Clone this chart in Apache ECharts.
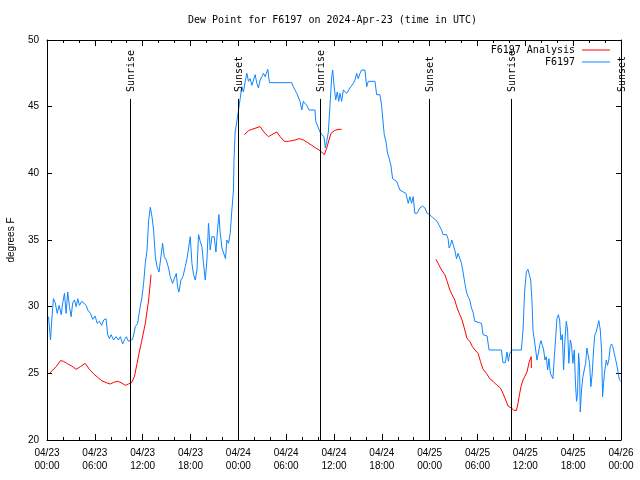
<!DOCTYPE html>
<html><head><meta charset="utf-8">
<script src="https://cdn.jsdelivr.net/npm/echarts@6/dist/echarts.min.js"></script>
<style>html,body{margin:0;padding:0;background:#fff}#c{width:640px;height:480px}</style>
</head><body><div id="c"></div>
<script>
// Hours since 2024-04-23 00:00 UTC, dew point in °F
const obsDay1 = [[0.19,29.25],[0.44,27.5],[0.60,29.0],[0.81,30.6],[1.03,30.3],[1.28,29.5],[1.53,30.1],[1.78,29.4],[1.98,30.3],[2.19,31.0],[2.40,29.5],[2.60,31.1],[2.82,30.0],[3.03,29.25],[3.23,30.3],[3.44,30.5],[3.66,30.0],[3.86,30.6],[4.07,30.1],[4.36,30.4],[4.61,30.3],[4.91,30.1],[5.11,29.75],[5.45,29.5],[5.74,29.05],[6.04,29.3],[6.29,28.75],[6.57,28.9],[6.86,28.6],[7.11,29.0],[7.41,29.1],[7.61,27.9],[7.83,27.6],[8.04,27.9],[8.36,27.5],[8.67,27.75],[8.95,27.5],[9.20,27.75],[9.49,27.2],[9.70,27.5],[9.96,27.75],[10.21,27.4],[10.46,27.55],[10.74,27.55],[10.96,27.5],[11.08,28.5],[11.37,28.75],[11.62,29.75],[11.92,30.75],[12.12,31.75],[12.33,33.25],[12.55,34.25],[12.75,36.5],[12.96,37.45],[13.17,36.75],[13.37,35.75],[13.59,33.75],[13.80,33.0],[14.05,32.6],[14.30,32.75],[14.50,34.75],[14.71,33.75],[14.96,33.5],[15.25,32.9],[15.46,32.25],[15.75,31.75],[16.00,31.9],[16.22,32.5],[16.38,31.5],[16.55,31.1],[16.80,32.0],[17.05,32.25],[17.34,33.0],[17.56,33.6],[17.76,33.75],[17.97,35.25],[18.18,33.25],[18.38,32.4],[18.60,32.0],[18.81,32.75],[19.01,35.4],[19.22,34.9],[19.43,34.5],[19.63,33.25],[19.85,32.0],[20.06,33.5],[20.26,36.25],[20.47,34.25],[20.69,35.25],[20.97,35.25],[21.19,34.1],[21.39,35.75],[21.56,36.9],[21.73,35.5],[21.94,34.4],[22.14,34.5],[22.39,33.6],[22.56,35.0],[22.77,34.75],[22.98,35.5],[23.19,37.25],[23.39,38.75],[23.45,40.9],[23.60,43.1],[23.94,44.4]];
const obsDay2 = [[24.23,45.6],[24.44,46.5],[24.64,46.1],[24.86,46.9],[25.07,47.5],[25.27,46.9],[25.48,47.1],[25.70,46.6],[25.90,47.0],[26.11,47.4],[26.32,46.75],[26.52,46.4],[26.73,47.0],[26.95,47.25],[27.15,47.5],[27.36,47.25],[27.57,47.6],[27.70,47.8],[27.90,46.8],[30.70,46.8],[30.90,46.5],[31.12,46.4],[31.33,46.0],[31.53,45.9],[31.74,45.4],[31.96,44.75],[32.16,45.4],[32.37,45.5],[32.58,45.1],[32.87,44.75],[33.62,44.75],[33.71,43.9],[33.96,43.75],[34.25,43.1],[34.46,42.9],[34.75,42.75],[34.91,41.9],[35.09,42.4],[35.29,43.1],[35.50,45.1],[35.71,47.25],[35.84,47.75],[36.00,46.6],[36.21,45.5],[36.41,46.1],[36.59,45.4],[36.75,46.0],[36.96,45.4],[37.17,46.25],[37.38,46.4],[37.59,46.0],[37.79,46.0],[38.00,46.4],[38.22,46.5],[38.42,46.75],[38.63,47.0],[38.84,47.5],[39.04,47.1],[39.26,47.5],[39.47,47.75],[39.67,47.9],[39.88,47.75],[40.10,46.5],[40.30,46.9],[41.14,46.9],[41.35,45.9],[41.55,45.75],[41.76,45.9],[41.97,45.1],[42.17,45.0],[42.30,42.9],[42.51,42.4],[42.72,41.5],[42.93,41.1],[43.14,40.6],[43.35,39.6],[43.55,39.5],[43.85,39.4],[44.05,39.25],[44.27,38.75],[44.68,38.6],[45.02,38.5],[45.31,37.75],[45.52,38.25],[45.73,37.75],[45.93,38.25],[46.14,37.0],[46.43,37.0],[46.77,37.4],[47.11,37.55],[47.40,37.4],[47.69,37.0]];
const obsDay3 = [[48.02,36.9],[48.36,36.7],[48.65,36.55],[48.94,36.4],[49.19,36.1],[49.49,35.75],[49.69,35.4],[49.90,35.25],[50.11,35.4],[50.31,35.1],[50.44,34.4],[50.61,34.6],[50.78,35.0],[50.94,35.1],[51.15,34.25],[51.37,33.6],[51.57,34.0],[51.78,33.9],[51.99,33.25],[52.19,32.6],[52.41,31.75],[52.62,31.1],[52.82,30.75],[53.03,30.5],[53.24,29.9],[53.44,29.6],[53.66,28.9],[53.87,28.75],[54.50,28.75],[54.70,27.9],[54.91,27.75],[55.20,27.8],[55.45,26.75],[57.00,26.75],[57.20,25.8],[57.50,25.8],[57.70,26.6],[57.88,25.9],[58.04,26.5],[58.33,26.75],[59.50,26.75],[59.71,28.25],[59.92,31.25],[60.13,32.6],[60.33,32.8],[60.55,32.95],[60.67,32.0],[60.83,30.5],[60.96,28.25],[61.13,27.5],[61.30,26.75],[61.46,26.0],[61.63,26.5],[61.80,27.1],[61.96,27.45],[62.14,27.1],[62.30,26.75],[62.46,26.0],[62.63,26.25],[62.80,25.25],[62.96,26.1],[63.14,25.0],[63.30,25.1],[63.46,24.6],[63.64,26.25],[63.80,27.6],[63.96,29.1],[64.14,29.4],[64.30,29.0],[64.46,27.5],[64.64,27.9],[64.80,25.25],[64.96,27.4],[65.14,28.9],[65.30,28.25],[65.46,25.75],[65.64,27.5],[65.80,27.1],[65.96,25.75],[66.14,26.75],[66.30,24.1],[66.43,22.9],[66.55,23.5],[66.68,26.5],[66.80,25.5],[66.89,22.1],[67.05,23.75],[67.22,24.75],[67.39,25.25],[67.56,25.75],[67.72,26.9],[67.89,26.95],[68.06,25.75],[68.22,24.0],[68.39,25.0],[68.56,26.75],[68.72,27.9],[68.89,28.1],[69.06,28.1],[69.22,28.95],[69.40,28.25],[69.56,26.75],[69.69,23.25],[69.81,24.25],[69.97,25.25],[70.15,26.0],[70.31,25.6],[70.47,26.0],[70.65,27.0],[70.81,27.2],[70.97,27.0],[71.15,26.5],[71.31,26.1],[71.48,25.6],[71.65,25.0],[71.81,24.5],[71.98,24.4]];

const analysisRun1 = [[0.31,25.0],[0.73,25.25],[1.15,25.5],[1.69,25.95],[2.10,25.9],[2.60,25.7],[3.11,25.55],[3.66,25.3],[4.19,25.5],[4.78,25.75],[5.32,25.3],[5.86,24.95],[6.36,24.7],[6.86,24.45],[7.41,24.3],[7.95,24.2],[8.45,24.35],[8.87,24.4],[9.29,24.3],[9.83,24.1],[10.21,24.2],[10.62,24.3],[10.96,24.75],[11.30,25.75],[11.58,26.6],[11.87,27.4],[12.05,27.5],[12.33,28.75],[12.75,30.5],[13.05,32.4]];
const analysisRun2 = [[24.77,42.9],[25.27,43.2],[25.70,43.3],[26.20,43.4],[26.73,43.5],[27.02,43.25],[27.36,43.0],[27.77,42.75],[28.20,42.9],[28.83,43.1],[29.24,42.75],[29.78,42.4],[30.28,42.4],[30.70,42.45],[31.12,42.5],[31.62,42.6],[32.16,42.5],[32.71,42.3],[33.21,42.1],[33.71,41.9],[34.25,41.7],[34.79,41.4],[35.09,41.9],[35.37,42.5],[35.62,43.0],[36.04,43.2],[36.50,43.3],[36.96,43.3]];
const analysisRun3 = [[48.78,33.55],[49.06,33.25],[49.49,32.75],[49.90,32.4],[50.19,31.9],[50.53,31.25],[50.81,30.9],[51.15,30.5],[51.44,29.9],[51.78,29.4],[52.07,29.0],[52.41,28.25],[52.69,27.6],[53.03,27.4],[53.37,27.0],[53.69,26.75],[54.07,26.5],[54.37,25.9],[54.70,25.3],[55.12,25.0],[55.54,24.6],[55.95,24.4],[56.45,24.1],[56.88,23.9],[57.20,23.5],[57.54,23.0],[57.82,22.55],[58.25,22.4],[58.54,22.25],[58.88,22.2],[59.08,22.75],[59.29,23.5],[59.50,24.1],[59.71,24.5],[59.92,24.75],[60.21,25.1],[60.46,25.8],[60.74,26.25],[60.76,25.4]];

const eventHours = [10.37, 23.92, 34.29, 47.94, 58.20, 71.94];
const eventNames = ['Sunrise', 'Sunset', 'Sunrise', 'Sunset', 'Sunrise', 'Sunset'];

const tickDates = ['04/23','04/23','04/23','04/23','04/24','04/24','04/24','04/24','04/25','04/25','04/25','04/25','04/26'];
const tickTimes = ['00:00','06:00','12:00','18:00','00:00','06:00','12:00','18:00','00:00','06:00','12:00','18:00','00:00'];

const yMin = 20, yMax = 50, yStep = 5;
const xMin = 0, xMax = 72, xStep = 6;

const stationData = obsDay1.concat(obsDay2, obsDay3);
const analysisData = analysisRun1.concat([[18, null]], analysisRun2, [[42, null]], analysisRun3);

const mono = '"DejaVu Sans Mono", monospace';
const sans = '"Liberation Sans", Arial, sans-serif';
const BLUE = '#0f86ff', RED = '#ff0000';
const EVENT_LINE_TOP = 45.58, EVENT_LABEL_BASE = 46.1;

const chart = echarts.init(document.getElementById('c'), null, {renderer: 'canvas'});

function xAxisCfg(pos, showLabel) {
  return {
    type: 'value', position: pos, min: xMin, max: xMax, interval: xStep,
    axisLine: {show: true, onZero: false, lineStyle: {color: '#000', width: 1}},
    axisTick: {show: true, inside: true, length: 6, lineStyle: {color: '#000', width: 1}},
    minorTick: {show: true, splitNumber: 3, length: 3, lineStyle: {color: '#000', width: 1}},
    splitLine: {show: false}, minorSplitLine: {show: false},
    axisLabel: {
      show: showLabel, margin: 7, color: '#000', fontFamily: sans, fontSize: 10, lineHeight: 13,
      showMinLabel: true, showMaxLabel: true, hideOverlap: false,
      formatter: function (v) { const i = Math.round(v / xStep); return tickDates[i] + '\n' + tickTimes[i]; }
    }
  };
}
function yAxisCfg(pos, showLabel) {
  const c = {
    type: 'value', position: pos, min: yMin, max: yMax, interval: yStep,
    axisLine: {show: true, onZero: false, lineStyle: {color: '#000', width: 1}},
    axisTick: {show: true, inside: true, length: 5, lineStyle: {color: '#000', width: 1}},
    splitLine: {show: false},
    axisLabel: {show: showLabel, margin: 8, color: '#000', fontFamily: sans, fontSize: 10}
  };
  if (showLabel) {
    c.name = 'degrees F';
    c.nameLocation = 'middle';
    c.nameGap = 31;
    c.nameTextStyle = {color: '#000', fontFamily: sans, fontSize: 10};
  }
  return c;
}

chart.setOption({
  animation: false,
  backgroundColor: '#fff',
  title: {
    text: 'Dew Point for F6197 on 2024-Apr-23 (time in UTC)',
    left: 188, top: 15, padding: 0,
    textStyle: {fontFamily: mono, fontSize: 10, fontWeight: 'normal', color: '#000'}
  },
  legend: {
    data: ['F6197 Analysis', 'F6197'],
    orient: 'vertical', align: 'right', right: 30, top: 45, padding: 0, itemGap: 2,
    icon: 'rect', itemWidth: 28, itemHeight: 1,
    textStyle: {fontFamily: mono, fontSize: 10, color: '#000', padding: [0, 2, 0, 0]},
    selectedMode: false
  },
  grid: {left: 47, right: 19, top: 40, bottom: 40, containLabel: false, outerBoundsMode: 'none'},
  xAxis: [xAxisCfg('bottom', true), xAxisCfg('top', false)],
  yAxis: [yAxisCfg('left', true), yAxisCfg('right', false)],
  series: [
    {
      name: 'F6197 Analysis', type: 'line', xAxisIndex: 0, yAxisIndex: 0,
      data: analysisData, showSymbol: false, symbol: 'none', connectNulls: false,
      lineStyle: {color: RED, width: 1}, itemStyle: {color: RED}, z: 3
    },
    {
      name: 'F6197', type: 'line', xAxisIndex: 0, yAxisIndex: 0,
      data: stationData, showSymbol: false, symbol: 'none',
      lineStyle: {color: BLUE, width: 1}, itemStyle: {color: BLUE}, z: 2
    },
    {
      name: 'events', type: 'custom', xAxisIndex: 0, yAxisIndex: 0, clip: false, silent: true,
      data: eventHours.map(function (h, i) { return [h, i]; }),
      encode: {x: 0},
      renderItem: function (params, api) {
        const t = api.value(0);
        const b = api.coord([t, yMin]);
        const tp = api.coord([t, EVENT_LINE_TOP]);
        const lb = api.coord([t, EVENT_LABEL_BASE]);
        const px = Math.round(b[0]) + 0.5;
        return {
          type: 'group',
          children: [
            {type: 'line', shape: {x1: px, y1: b[1], x2: px, y2: tp[1]}, style: {stroke: '#000', lineWidth: 1}},
            {type: 'text', x: px + 1, y: lb[1], rotation: Math.PI / 2,
              style: {text: eventNames[api.value(1)], x: 0, y: 0, align: 'left', verticalAlign: 'middle',
                fill: '#000', font: '10px ' + mono}}
          ]
        };
      },
      z: 4
    }
  ]
});
</script></body></html>
